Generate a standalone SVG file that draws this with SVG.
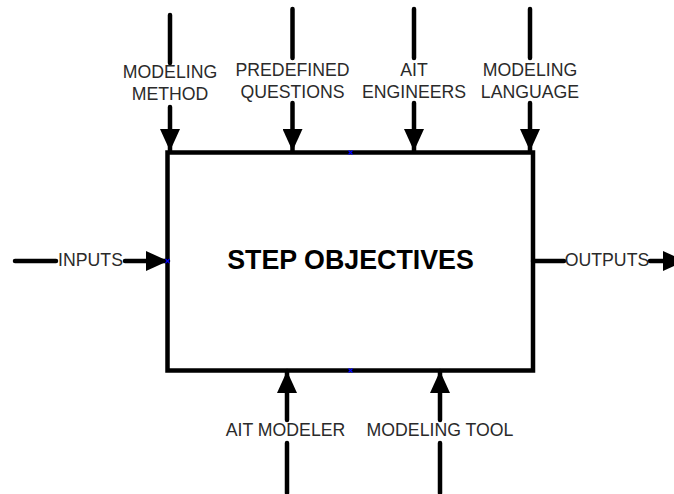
<svg xmlns="http://www.w3.org/2000/svg" width="674" height="494" viewBox="0 0 674 494">
<style>
.ln{stroke:#000;stroke-width:4.5;stroke-linecap:round;fill:none}
.ar{marker-end:url(#ah)}
.lbl{font-family:"Liberation Sans",Arial,sans-serif;font-size:17.7px;fill:#2a2a2a;text-anchor:middle}
.ttl{font-family:"Liberation Sans",Arial,sans-serif;font-size:26.8px;font-weight:bold;fill:#000;text-anchor:middle}
.pt{stroke:#0000ff;stroke-width:1.2;fill:none}
</style>
<defs>
<marker id="ah" markerUnits="userSpaceOnUse" markerWidth="23" markerHeight="20" refX="22" refY="10" orient="auto">
<path d="M0,0 L22,10 L0,20 z" fill="#000"/>
</marker>
</defs>
<rect width="674" height="494" fill="#fff"/>
<g id="connectors">
<line class="ln" x1="170" y1="15" x2="170" y2="63"/>
<line class="ln ar" x1="170" y1="107" x2="170" y2="151"/>
<line class="ln" x1="292.5" y1="9" x2="292.5" y2="58"/>
<line class="ln ar" x1="292.5" y1="103" x2="292.5" y2="151"/>
<line class="ln" x1="414" y1="9" x2="414" y2="58"/>
<line class="ln ar" x1="414" y1="103" x2="414" y2="151"/>
<line class="ln" x1="530" y1="9" x2="530" y2="58"/>
<line class="ln ar" x1="530" y1="103" x2="530" y2="151"/>
<line class="ln" x1="15" y1="261" x2="56" y2="261"/>
<line class="ln ar" x1="125" y1="261" x2="168" y2="261"/>
<line class="ln" x1="533" y1="261" x2="564" y2="261"/>
<line class="ln ar" x1="650" y1="261" x2="685" y2="261"/>
<line class="ln" x1="287" y1="493" x2="287" y2="443"/>
<line class="ln ar" x1="287" y1="420" x2="287" y2="371"/>
<line class="ln" x1="440" y1="493" x2="440" y2="443"/>
<line class="ln ar" x1="440" y1="420" x2="440" y2="371"/>
</g>
<g id="step">
<rect x="167.5" y="152.5" width="365.5" height="218" fill="none" stroke="#000" stroke-width="4.5"/>
<text class="ttl" x="350.5" y="268.5">STEP OBJECTIVES</text>
<path class="pt" d="M348.5,150.5 l4,4 M352.5,150.5 l-4,4 M348.5,368.5 l4,4 M352.5,368.5 l-4,4 M165.5,259 l4,4 M169.5,259 l-4,4"/>
</g>
<g id="modeling-method"><text class="lbl" x="170" y="78">MODELING</text><text class="lbl" x="170" y="100">METHOD</text></g>
<g id="predefined-questions"><text class="lbl" x="292.5" y="76">PREDEFINED</text><text class="lbl" x="292.5" y="97.5">QUESTIONS</text></g>
<g id="ait-engineers"><text class="lbl" x="414" y="76">AIT</text><text class="lbl" x="414" y="97.5">ENGINEERS</text></g>
<g id="modeling-language"><text class="lbl" x="530" y="76">MODELING</text><text class="lbl" x="530" y="97.5">LANGUAGE</text></g>
<g id="inputs"><text class="lbl" x="90.5" y="266">INPUTS</text></g>
<g id="outputs"><text class="lbl" x="607" y="266">OUTPUTS</text></g>
<g id="ait-modeler"><text class="lbl" x="285.5" y="436">AIT MODELER</text></g>
<g id="modeling-tool"><text class="lbl" x="440" y="436">MODELING TOOL</text></g>
</svg>
